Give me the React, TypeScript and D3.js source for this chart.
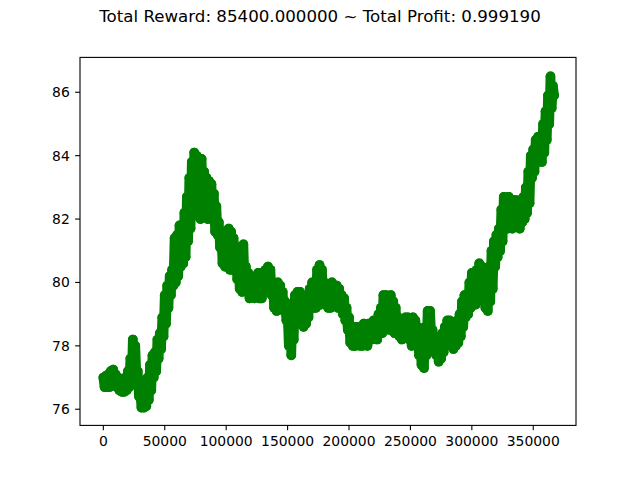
import React from "react";
import * as d3 from "d3";

// Reward curve sampled every STEP steps (alternating upper/lower swings of the noisy trace)
const STEP = 1000;
const rewards = [
  77.0,76.7, 77.05,76.7, 77.1,76.7, 77.2,76.75, 77.25,76.8, 77.1,76.7, 77.0,76.6, 76.95,76.55, 76.9,76.55, 77.0,76.6,
  77.2,76.7, 77.6,76.8, 78.2,77.0, 78.0,77.0, 77.2,76.4, 76.6,76.05, 76.5,76.05, 76.7,76.1, 77.0,76.3, 77.4,76.6,
  77.7,77.0, 77.8,77.2, 78.2,77.6, 78.4,77.9, 78.9,78.3, 79.6,78.7, 79.9,79.2, 80.2,79.6, 80.4,79.9, 81.4,80.0,
  81.5,80.2, 81.8,80.5, 81.6,80.6, 82.2,80.8, 82.7,81.3, 83.3,81.7, 83.8,82.4, 84.1,82.5, 84.0,82.3, 83.9,82.0,
  83.9,82.1, 83.5,82.2, 83.3,82.0, 83.2,82.2, 83.1,82.0, 82.8,81.6, 82.4,81.5, 81.9,81.1, 81.6,80.6, 81.2,80.5,
  81.5,80.7, 81.7,80.4, 81.6,80.4, 81.4,80.9, 81.0,80.1, 80.9,79.8, 80.8,79.7, 81.2,80.0, 80.5,79.7, 80.3,79.5,
  80.0,79.6, 79.9,79.5, 80.2,79.6, 80.3,79.5, 80.3,79.5, 80.1,79.7, 80.4,79.7, 80.5,79.8, 80.4,79.6, 80.0,79.2,
  79.8,79.1, 80.0,79.3, 79.9,79.2, 79.7,79.1, 79.4,78.8, 79.0,78.0, 79.3,77.7, 79.2,78.2, 79.6,78.7, 79.7,78.8,
  79.7,78.7, 79.5,78.6, 79.3,78.7, 79.5,78.9, 79.8,79.2, 80.0,79.2, 80.0,79.2, 80.4,79.4, 80.55,79.3, 80.4,79.5,
  80.0,79.3, 79.9,79.2, 79.9,79.2, 80.0,79.3, 79.8,79.3, 79.9,79.2, 79.8,79.2, 79.6,79.0, 79.5,78.8, 79.2,78.5,
  78.9,78.1, 78.6,78.0, 78.6,78.0, 78.6,78.1, 78.6,78.0, 78.5,78.0, 78.7,78.1, 78.6,78.0, 78.7,78.2, 78.7,78.2,
  78.8,78.3, 78.8,78.2, 79.0,78.4, 79.2,78.4, 79.6,78.6, 79.6,78.6, 79.5,78.5, 79.6,78.7, 79.4,78.4, 79.2,78.5,
  78.9,78.3, 78.8,78.2, 78.7,78.3, 78.9,78.4, 78.9,78.2, 78.8,78.0, 78.9,78.3, 78.8,78.0, 78.6,77.7, 78.3,77.4,
  78.2,77.3, 78.6,77.7, 79.1,78.0, 79.1,78.2, 78.5,77.8, 78.2,77.7, 78.0,77.5, 78.1,77.6, 78.4,77.8, 78.6,78.0,
  78.8,78.2, 78.8,78.0, 78.5,77.9, 78.5,78.0, 78.8,78.1, 79.0,78.3, 79.4,78.6, 79.6,78.9, 79.6,79.0, 80.0,79.2,
  80.3,79.4, 80.0,79.3, 80.4,79.6, 80.6,79.7, 80.5,79.5, 80.3,79.2, 80.1,79.1, 80.5,79.4, 81.0,79.8, 81.3,80.5,
  81.5,80.8, 81.7,81.0, 82.3,81.3, 82.7,81.7, 82.6,81.7, 82.7,81.8, 82.4,81.7, 82.6,81.8, 82.6,82.0, 82.5,81.7,
  82.6,81.9, 82.7,82.0, 83.0,82.2, 83.5,82.5, 84.0,83.3, 84.2,83.5, 84.5,83.8, 84.6,84.0, 84.4,83.8, 85.0,84.1,
  85.4,84.5, 85.9,85.0, 86.5,85.5, 86.2,85.9,
];

const xTicks = [0, 50000, 100000, 150000, 200000, 250000, 300000, 350000];
const yTicks = [76, 78, 80, 82, 84, 86];
const title = "Total Reward: 85400.000000 ~ Total Profit: 0.999190";

const W = 640;
const H = 478;
const L = 80, R = 576, T = 57.4, B = 425.4;

export default function App() {
  const x = d3.scaleLinear().domain([-19000, 384800]).range([L, R]);
  const y = d3.scaleLinear().domain([75.49, 87.1]).range([B, T]);
  const pts: [number, number][] = rewards.map((v, i) => [i * STEP, v]);
  const line = d3.line<[number, number]>().x((d) => x(d[0])).y((d) => y(d[1]));
  const font = "DejaVu Sans, sans-serif";
  const tick = 4.86;
  return (
    <svg width={W} height={H} style={{ position: "absolute", left: 0, top: 0, background: "#fff" }}>
      <rect x={0} y={0} width={W} height={H} fill="#fff" />
      <text x={320} y={22} textAnchor="middle" fontFamily={font} fontSize={16.67} fill="#000">
        {title}
      </text>
      <defs>
        <clipPath id="plotclip">
          <rect x={L} y={T} width={R - L} height={B - T} />
        </clipPath>
      </defs>
      <g clipPath="url(#plotclip)">
        <path
          d={line(pts) || ""}
          fill="none"
          stroke="#008000"
          strokeWidth={9.7}
          strokeLinejoin="round"
          strokeLinecap="round"
        />
        {pts.map((d, i) => (
          <circle key={i} cx={x(d[0])} cy={y(d[1])} r={4.86} fill="#008000" />
        ))}
      </g>
      <rect x={L} y={T} width={R - L} height={B - T} fill="none" stroke="#000" strokeWidth={1.1} />
      {xTicks.map((t) => (
        <g key={"x" + t}>
          <line x1={x(t)} x2={x(t)} y1={B} y2={B + tick} stroke="#000" strokeWidth={1.1} />
          <text x={x(t)} y={B + 20.5} textAnchor="middle" fontFamily={font} fontSize={13.9} fill="#000">
            {String(t)}
          </text>
        </g>
      ))}
      {yTicks.map((t) => (
        <g key={"y" + t}>
          <line x1={L - tick} x2={L} y1={y(t)} y2={y(t)} stroke="#000" strokeWidth={1.1} />
          <text x={L - 2 * tick - 0.5} y={y(t) + 5} textAnchor="end" fontFamily={font} fontSize={13.9} fill="#000">
            {String(t)}
          </text>
        </g>
      ))}
    </svg>
  );
}
